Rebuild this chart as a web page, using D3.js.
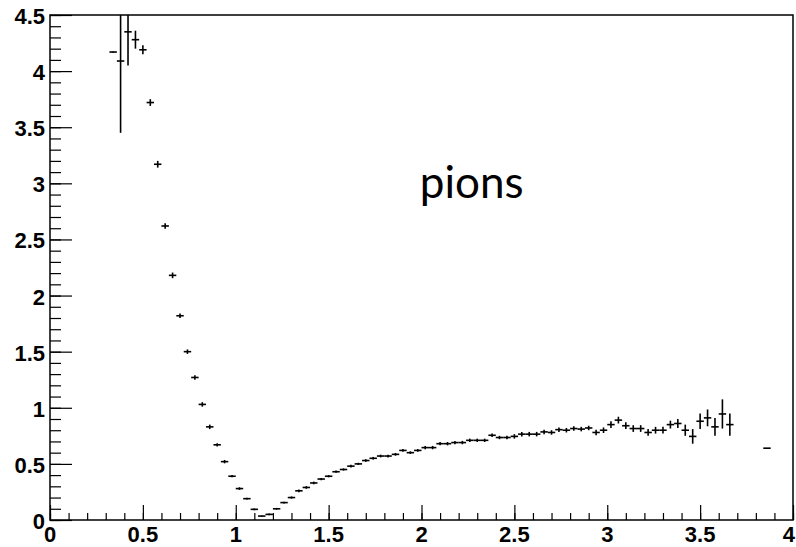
<!DOCTYPE html>
<html>
<head>
<meta charset="utf-8">
<script src="https://cdn.jsdelivr.net/npm/d3@7"></script>
<style>
  html, body { margin: 0; padding: 0; background: #fff; }
  svg { display: block; }
</style>
</head>
<body>
<svg id="chart" width="796" height="547"></svg>
<script>
// Pion histogram: bin centres, contents and statistical errors
const binCenters = [
  0.34, 0.38, 0.42, 0.46, 0.50, 0.54, 0.58, 0.62, 0.66, 0.70,
  0.74, 0.78, 0.82, 0.86, 0.90, 0.94, 0.98, 1.02, 1.06, 1.10,
  1.14, 1.18, 1.22, 1.26, 1.30, 1.34, 1.38, 1.42, 1.46, 1.50,
  1.54, 1.58, 1.62, 1.66, 1.70, 1.74, 1.78, 1.82, 1.86, 1.90,
  1.94, 1.98, 2.02, 2.06, 2.10, 2.14, 2.18, 2.22, 2.26, 2.30,
  2.34, 2.38, 2.42, 2.46, 2.50, 2.54, 2.58, 2.62, 2.66, 2.70,
  2.74, 2.78, 2.82, 2.86, 2.90, 2.94, 2.98, 3.02, 3.06, 3.10,
  3.14, 3.18, 3.22, 3.26, 3.30, 3.34, 3.38, 3.42, 3.46, 3.50,
  3.54, 3.58, 3.62, 3.66, 3.86
];
const pionValues = [
  4.17, 4.09, 4.35, 4.28, 4.19, 3.72, 3.17, 2.62, 2.18, 1.82,
  1.50, 1.27, 1.03, 0.83, 0.67, 0.52, 0.39, 0.28, 0.19, 0.095,
  0.035, 0.05, 0.10, 0.155, 0.20, 0.26, 0.29, 0.33, 0.365, 0.39,
  0.43, 0.45, 0.48, 0.50, 0.53, 0.55, 0.57, 0.57, 0.585, 0.62,
  0.60, 0.62, 0.645, 0.645, 0.68, 0.68, 0.69, 0.69, 0.71, 0.71,
  0.71, 0.755, 0.735, 0.735, 0.745, 0.765, 0.765, 0.765, 0.785, 0.78,
  0.805, 0.80, 0.815, 0.81, 0.82, 0.78, 0.80, 0.85, 0.89, 0.84,
  0.815, 0.815, 0.78, 0.80, 0.80, 0.85, 0.86, 0.80, 0.745, 0.88,
  0.91, 0.83, 0.945, 0.85, 0.64
];
const pionErrors = [
  0.005, 0.64, 0.30, 0.08, 0.04, 0.03, 0.03, 0.025, 0.025, 0.02,
  0.02, 0.02, 0.02, 0.02, 0.015, 0.015, 0.01, 0.012, 0.008, 0.008,
  0.005, 0.008, 0.008, 0.008, 0.01, 0.012, 0.012, 0.012, 0.01, 0.01,
  0.01, 0.01, 0.012, 0.01, 0.012, 0.012, 0.012, 0.012, 0.012, 0.012,
  0.012, 0.012, 0.015, 0.015, 0.015, 0.015, 0.015, 0.015, 0.015, 0.015,
  0.015, 0.015, 0.015, 0.015, 0.02, 0.02, 0.02, 0.02, 0.02, 0.02,
  0.02, 0.02, 0.02, 0.02, 0.02, 0.025, 0.025, 0.03, 0.03, 0.03,
  0.03, 0.03, 0.03, 0.03, 0.03, 0.035, 0.04, 0.05, 0.065, 0.07,
  0.075, 0.08, 0.13, 0.10, 0.0
];
const binWidth = 0.04;

const xMajorTicks = [0, 0.5, 1, 1.5, 2, 2.5, 3, 3.5, 4];
const xTickLabels = ["0", "0.5", "1", "1.5", "2", "2.5", "3", "3.5", "4"];
const yMajorTicks = [0, 0.5, 1, 1.5, 2, 2.5, 3, 3.5, 4, 4.5];
const yTickLabels = ["0", "0.5", "1", "1.5", "2", "2.5", "3", "3.5", "4", "4.5"];
const minorStep = 0.1;
const annotation = "pions";

const svg = d3.select("#chart");
const W = 796, H = 547;
const margin = { top: 15, right: 3, bottom: 27, left: 50 };
const iw = W - margin.left - margin.right;
const ih = H - margin.top - margin.bottom;

const x = d3.scaleLinear().domain([0, 4]).range([0, iw]);
const y = d3.scaleLinear().domain([0, 4.5]).range([ih, 0]);

const g = svg.append("g").attr("transform", `translate(${margin.left},${margin.top})`);

g.append("clipPath").attr("id", "plotClip")
  .append("rect").attr("x", 0).attr("y", 0).attr("width", iw).attr("height", ih);

const xMinor = d3.range(0, 4 + 1e-9, minorStep);
const yMinor = d3.range(0, 4.5 + 1e-9, minorStep);

// x axis: ticks point into the frame
const xAxisMajor = d3.axisBottom(x).tickValues(xMajorTicks).tickSize(-15).tickFormat("");
const xAxisMinor = d3.axisBottom(x).tickValues(xMinor).tickSize(-7).tickFormat("");
const xa = g.append("g").attr("transform", `translate(0,${ih})`);
xa.call(xAxisMinor);
xa.append("g").call(xAxisMajor);
xa.selectAll(".domain").remove();
xa.selectAll("line").attr("stroke", "#000").attr("stroke-width", 1.2);

// y axis: ticks point into the frame
const yAxisMajor = d3.axisLeft(y).tickValues(yMajorTicks).tickSize(-22).tickFormat("");
const yAxisMinor = d3.axisLeft(y).tickValues(yMinor).tickSize(-11).tickFormat("");
const ya = g.append("g");
ya.call(yAxisMinor);
ya.append("g").call(yAxisMajor);
ya.selectAll(".domain").remove();
ya.selectAll("line").attr("stroke", "#000").attr("stroke-width", 1.2);

// tick labels; the last x label is pulled in so it stays on the canvas
const lastX = xMajorTicks.length - 1;
g.append("g").selectAll("text").data(xMajorTicks).join("text")
  .attr("x", (d, i) => i === lastX ? W - margin.left - 1 : x(d))
  .attr("y", ih + 22)
  .attr("text-anchor", (d, i) => i === lastX ? "end" : "middle")
  .attr("font-family", "Liberation Sans, Arial, sans-serif")
  .attr("font-weight", "bold")
  .attr("font-size", 22)
  .attr("fill", "#000")
  .text((d, i) => xTickLabels[i]);

g.append("g").selectAll("text").data(yMajorTicks).join("text")
  .attr("x", -5)
  .attr("y", d => y(d) + 9)
  .attr("text-anchor", "end")
  .attr("font-family", "Liberation Sans, Arial, sans-serif")
  .attr("font-weight", "bold")
  .attr("font-size", 22)
  .attr("fill", "#000")
  .text((d, i) => yTickLabels[i]);

// frame
g.append("rect")
  .attr("x", 0).attr("y", 0).attr("width", iw).attr("height", ih)
  .attr("fill", "none").attr("stroke", "#000").attr("stroke-width", 1.5);

// histogram points with error bars
const pts = binCenters.map((c, i) => ({ c, v: pionValues[i], e: pionErrors[i] }));
const marks = g.append("g").attr("clip-path", "url(#plotClip)")
  .attr("stroke", "#000").attr("stroke-width", 1.6);

marks.selectAll("line.h").data(pts).join("line").attr("class", "h")
  .attr("x1", d => x(d.c - binWidth / 2))
  .attr("x2", d => x(d.c + binWidth / 2))
  .attr("y1", d => y(d.v))
  .attr("y2", d => y(d.v));

marks.selectAll("line.v").data(pts.filter(d => d.e > 0)).join("line").attr("class", "v")
  .attr("x1", d => x(d.c))
  .attr("x2", d => x(d.c))
  .attr("y1", d => y(d.v + d.e))
  .attr("y2", d => y(d.v - d.e));

// annotation
g.append("text")
  .attr("x", x(2.27))
  .attr("y", y(2.87))
  .attr("text-anchor", "middle")
  .attr("font-family", "Lato, 'Open Sans', sans-serif")
  .attr("font-size", 44)
  .attr("fill", "#000")
  .text(annotation);
</script>
</body>
</html>
